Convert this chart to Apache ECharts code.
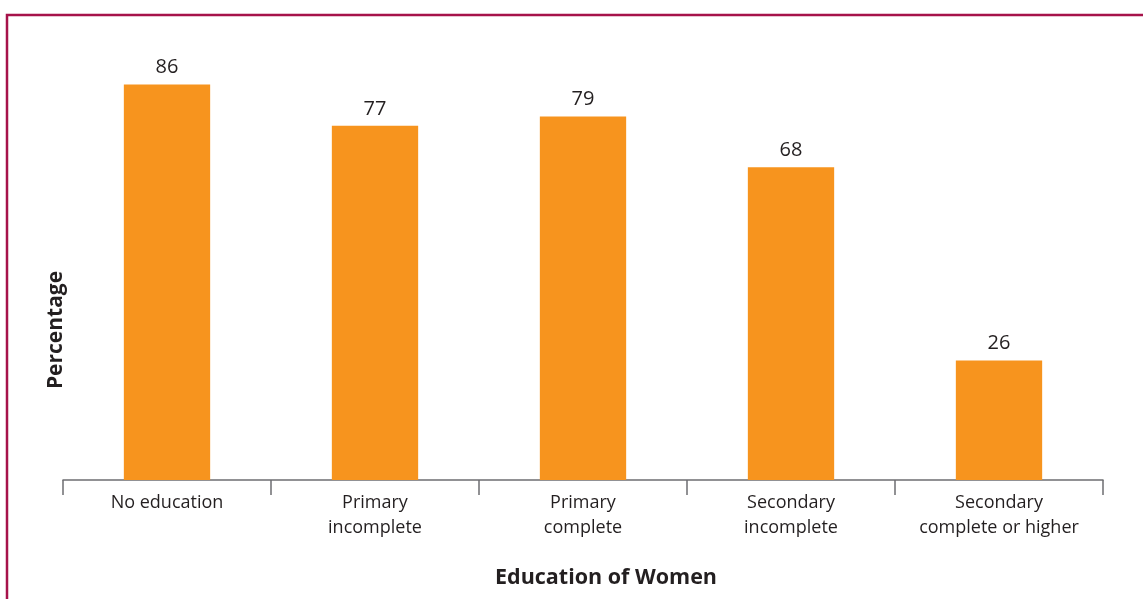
<!DOCTYPE html>
<html>
<head>
<meta charset="utf-8">
<script src="https://cdn.jsdelivr.net/npm/echarts@6/dist/echarts.min.js"></script>
<style>html,body{margin:0;padding:0;background:#fff;}#c{width:1143px;height:599px;}</style>
</head>
<body>
<div id="c"></div>
<script>
const categories = ["No education", "Primary\nincomplete", "Primary\ncomplete", "Secondary\nincomplete", "Secondary\ncomplete or higher"];
const values = [86, 77, 79, 68, 26];
const yAxisTitle = "Percentage";
const xAxisTitle = "Education of Women";

const chart = echarts.init(document.getElementById('c'));
const font = '"Open Sans", "Noto Sans", sans-serif';
chart.setOption({
  animation: false,
  grid: { left: 63, right: 40, top: 20, bottom: 119 },
  xAxis: {
    type: 'category',
    data: categories,
    axisLine: { lineStyle: { color: '#6d6e71', width: 1.5 } },
    axisTick: { show: true, length: 15, lineStyle: { color: '#6d6e71', width: 1.5 } },
    axisLabel: { color: '#231f20', fontSize: 18, fontFamily: font, lineHeight: 25, margin: 10 }
  },
  yAxis: {
    type: 'value', min: 0, max: 100,
    show: false,
    splitLine: { show: false }
  },
  series: [{
    type: 'bar',
    data: values,
    barWidth: '41.5%',
    itemStyle: { color: '#f7941e' },
    label: { show: true, position: 'top', distance: 7, color: '#231f20', fontSize: 20, fontFamily: font }
  }],
  graphic: [
    { type: 'rect', shape: { x: 7, y: 15, width: 1300, height: 800 }, style: { fill: 'none', stroke: '#a6124a', lineWidth: 2.5 }, silent: true },
    { type: 'text', x: 56, y: 330, rotation: Math.PI / 2, style: { text: yAxisTitle, fontSize: 21, fontWeight: 'bold', fontFamily: font, fill: '#231f20', align: 'center', verticalAlign: 'middle' } },
    { type: 'text', x: 606, y: 578, style: { text: xAxisTitle, fontSize: 21.5, fontWeight: 'bold', fontFamily: font, fill: '#231f20', align: 'center', verticalAlign: 'middle' } }
  ]
});
</script>
</body>
</html>
